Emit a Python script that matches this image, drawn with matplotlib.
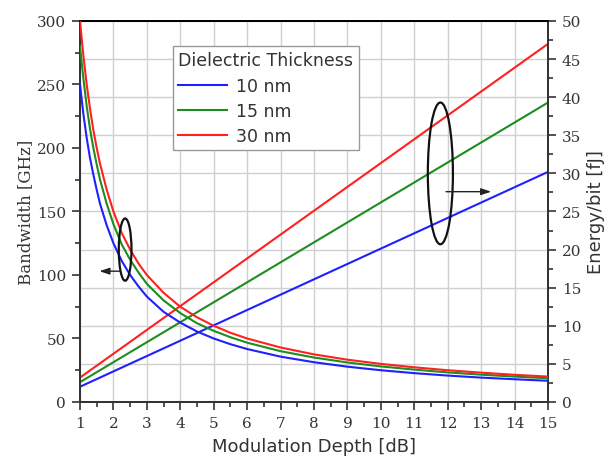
import matplotlib
matplotlib.use("Agg")
import matplotlib.pyplot as plt
from matplotlib.patches import Ellipse
from matplotlib.ticker import MultipleLocator

# ---- data ----
depth_bw = [1, 1.1, 1.2, 1.3, 1.4, 1.5, 1.6, 1.8, 2, 2.25, 2.5, 2.75, 3, 3.5, 4, 4.5, 5, 5.5,
            6, 7, 8, 9, 10, 11, 12, 13, 14, 15]
bw_10nm = [250, 227, 208, 192, 179, 167, 156, 139, 125, 111, 100, 91, 83, 71, 62.5, 55.5, 50, 45.5,
           41.7, 35.7, 31.3, 27.8, 25, 22.7, 20.8, 19.2, 17.9, 16.7]
bw_15nm = [280, 255, 233, 215, 200, 187, 175, 156, 140, 124, 112, 102, 93, 80, 70, 62, 56, 51,
           46.7, 40, 35, 31.1, 28, 25.5, 23.3, 21.5, 20, 18.7]
bw_30nm = [300, 273, 250, 231, 214, 200, 187.5, 167, 150, 133, 120, 109, 100, 86, 75, 66.7, 60, 54.5,
           50, 42.9, 37.5, 33.3, 30, 27.3, 25, 23.1, 21.4, 20]

depth_e = [1, 15]
e_10nm = [2.0, 30.2]
e_15nm = [2.6, 39.3]
e_30nm = [3.2, 47.0]

labels = ["10 nm", "15 nm", "30 nm"]
colors = ["#2020ff", "#1f8c1f", "#ff2020"]
legend_title = "Dielectric Thickness"

SERIF = ["DejaVu Serif"]
SANS = ["DejaVu Sans"]
SPINE = "#333333"

fig = plt.figure(figsize=(6.13, 4.64), dpi=100)
ax2 = fig.add_axes([0.1305, 0.1315, 0.7635, 0.8211])
ax = fig.add_axes([0.1305, 0.1315, 0.7635, 0.8211], sharex=ax2)
ax.patch.set_visible(False)

# energy axis (background, carries the grid)
for y, c in zip([e_10nm, e_15nm, e_30nm], colors):
    ax2.plot(depth_e, y, color=c, lw=1.5, zorder=3)
ax2.set_ylim(0, 50)
ax2.yaxis.tick_right()
ax2.yaxis.set_label_position("right")
ax2.yaxis.set_major_locator(MultipleLocator(5))
ax2.yaxis.set_minor_locator(MultipleLocator(2.5))
ax2.grid(True, which="major", color="#d0d0d0", lw=1.0, zorder=0)
ax2.set_axisbelow(True)
ax2.tick_params(axis="x", which="both", length=0, labelbottom=False)
ax2.tick_params(axis="y", which="major", direction="out", length=6, width=1.2,
                color=SPINE, labelsize=11, pad=4)
ax2.tick_params(axis="y", which="minor", direction="out", length=3.5, width=1.2, color=SPINE)
for lab in ax2.get_yticklabels():
    lab.set_family(SERIF)
    lab.set_color("#333333")
ax2.set_ylabel("Energy/bit [fJ]", family=SANS, fontsize=13, color="#333333", labelpad=4)

# bandwidth axis (foreground)
lines = []
for y, c, l in zip([bw_10nm, bw_15nm, bw_30nm], colors, labels):
    ln, = ax.plot(depth_bw, y, color=c, lw=1.5, label=l, zorder=3)
    lines.append(ln)
ax.set_xlim(1, 15)
ax.set_ylim(0, 300)
ax.xaxis.set_major_locator(MultipleLocator(1))
ax.xaxis.set_minor_locator(MultipleLocator(0.5))
ax.yaxis.set_major_locator(MultipleLocator(50))
ax.yaxis.set_minor_locator(MultipleLocator(25))
ax.tick_params(axis="both", which="major", direction="out", length=6, width=1.2,
               color=SPINE, labelsize=11, pad=4)
ax.tick_params(axis="both", which="minor", direction="out", length=3.5, width=1.2, color=SPINE)
ax.tick_params(axis="y", right=False, which="both")
for lab in ax.get_xticklabels() + ax.get_yticklabels():
    lab.set_family(SERIF)
    lab.set_color("#333333")
ax.set_xlabel("Modulation Depth [dB]", family=SANS, fontsize=13, color="#333333", labelpad=5)
ax.set_ylabel("Bandwidth [GHz]", family=SERIF, fontsize=12, color="#333333", labelpad=2)

for a in (ax, ax2):
    for s in a.spines.values():
        s.set_color(SPINE)
        s.set_linewidth(1.3)
    a.spines["top"].set_color("#000000")

# annotations: ellipses and arrows
ax.add_patch(Ellipse((2.35, 120), width=0.38, height=49, fill=False,
                     edgecolor="#111111", lw=1.6, zorder=5))
ax.annotate("", xy=(1.58, 103), xytext=(2.2, 103),
            arrowprops=dict(arrowstyle="-|>,head_length=0.6,head_width=0.2", color="#222222", lw=1.0,
                            mutation_scale=10, shrinkA=0, shrinkB=0), zorder=5)
ax2.add_patch(Ellipse((11.78, 30.0), width=0.75, height=18.6, fill=False,
                      edgecolor="#111111", lw=1.6, zorder=5))
ax2.annotate("", xy=(13.3, 27.6), xytext=(11.95, 27.6),
             arrowprops=dict(arrowstyle="-|>,head_length=0.6,head_width=0.2", color="#222222", lw=1.0,
                             mutation_scale=10, shrinkA=0, shrinkB=0), zorder=5)

leg = ax.legend(handles=lines, labels=labels, title=legend_title,
                loc="upper left", bbox_to_anchor=(0.199, 0.934), borderaxespad=0,
                fancybox=False, edgecolor="#9a9a9a", framealpha=1, frameon=True,
                prop={"family": SANS, "size": 12.5},
                title_fontproperties={"family": SANS, "size": 12.5},
                handlelength=2.8, handletextpad=0.5, labelspacing=0.42, borderpad=0.3,
                alignment="left")
leg.get_frame().set_linewidth(1.0)
for t in leg.get_texts():
    t.set_color("#333333")
leg.get_title().set_color("#333333")
leg.set_zorder(10)

fig.savefig("out.png", dpi=100)
